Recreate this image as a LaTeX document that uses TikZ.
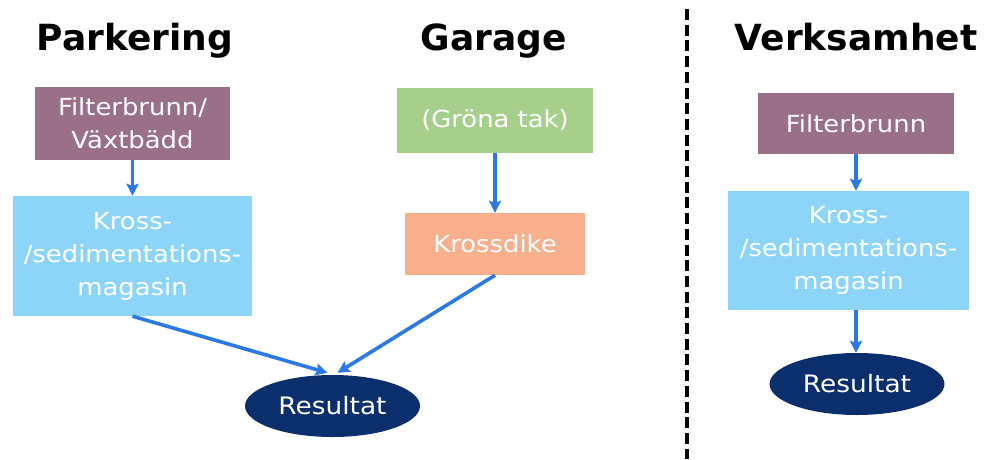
\documentclass[tikz,border=0pt]{standalone}
\usepackage{fontspec}
\setmainfont{DejaVu Sans}
\newfontfamily\titlefont{DejaVu Sans}
\newfontfamily\boxfont[FakeStretch=1.1]{DejaVu Sans}
\usetikzlibrary{shapes.geometric,arrows.meta}
\definecolor{mauve}{HTML}{9A7088}
\definecolor{lblue}{HTML}{8DD5F8}
\definecolor{lgreen}{HTML}{A6CF8C}
\definecolor{salmon}{HTML}{F8AF8C}
\definecolor{navy}{HTML}{0B2F6D}
\definecolor{arr}{HTML}{2B79E4}
\tikzset{
  box/.style={rectangle, inner sep=0pt, text=white, align=center,
    font=\boxfont\fontsize{23.5}{33}\selectfont},
  res/.style={ellipse, fill=navy, inner sep=0pt, minimum width=175pt, minimum height=62pt,
    text=white, font=\boxfont\fontsize{24}{33}\selectfont},
  ttl/.style={anchor=base, font=\titlefont\bfseries\fontsize{36}{36}\selectfont},
  flow/.style={draw=arr, line width=3.6pt, -{Stealth[length=12pt,width=12pt,inset=2pt]}},
}
\begin{document}
\begin{tikzpicture}[x=1pt,y=-1pt]
\useasboundingbox[fill=white] (0,0) rectangle (986,459);
% titles
\node[ttl] (tp) at (135,50) {Parkering};
\node[ttl] (tg) at (494,50) {Garage};
\node[ttl] (tv) at (856,50) {Verksamhet};
% divider
\coordinate (dtop) at (687,9);
\coordinate (dbot) at (687,459);
\draw[line width=4pt, dash pattern=on 11pt off 4.7pt] (dtop) -- (dbot);
% left
\node[box, fill=mauve, minimum width=195pt, minimum height=73pt] (fb1) at (132.5,123.5) {Filterbrunn/\\Växtbädd};
\node[box, fill=lblue, minimum width=239pt, minimum height=120pt] (ks1) at (132.5,256) {Kross-\\/sedimentations-\\magasin};
\node[box, fill=lgreen, minimum width=196pt, minimum height=65pt] (gt) at (495,120.5) {(Gröna tak)};
\node[box, fill=salmon, minimum width=180pt, minimum height=62pt] (kd) at (495,244) {Krossdike};
\node[res] (res1) at (332.5,406) {Resultat};
\draw[flow] (fb1.south) -- (ks1.north);
\draw[flow] (gt.south) -- (kd.north);
\draw[flow] (ks1.south) -- ([xshift=-5pt,yshift=2pt]res1.north);
\draw[flow] (kd.south) -- ([xshift=5pt,yshift=2pt]res1.north);
% right
\node[box, fill=mauve, minimum width=196pt, minimum height=61pt] (fb2) at (856,123.5) {Filterbrunn};
\node[box, fill=lblue, minimum width=241pt, minimum height=119pt] (ks2) at (848.5,250.5) {Kross-\\/sedimentations-\\magasin};
\node[res] (res2) at (857,384) {Resultat};
\draw[flow] (fb2.south) -- (fb2.south |- ks2.north);
\draw[flow] (fb2.south |- ks2.south) -- (fb2.south |- res2.north);
\end{tikzpicture}
\end{document}
